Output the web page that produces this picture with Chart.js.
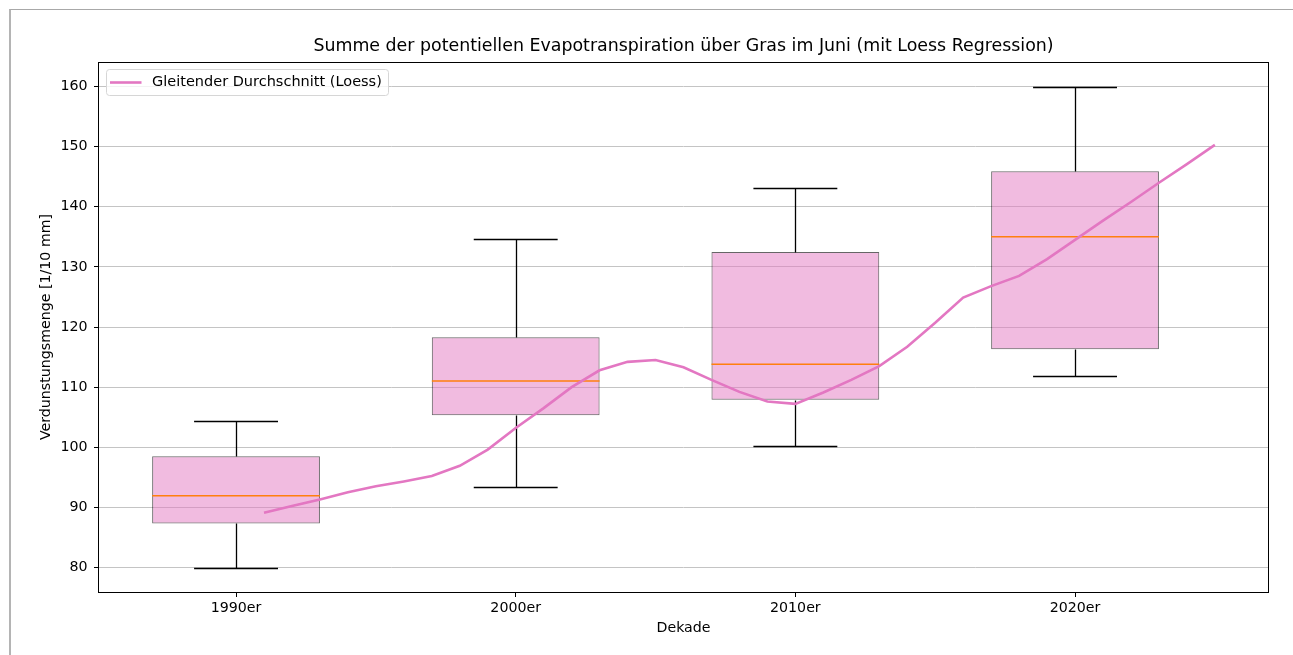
<!DOCTYPE html>
<html>
<head>
<meta charset="utf-8">
<script src="https://cdn.jsdelivr.net/npm/chart.js@4.4.1/dist/chart.umd.min.js"></script>
<style>
    html, body { margin: 0; padding: 0; background: #fff; }
    #wrap { position: relative; width: 1293px; height: 655px; }
    #frame {
        position: absolute; left: 9px; top: 9px; right: 0; bottom: 0;
        border-top: 1px solid #a8a8a8; border-left: 2px solid #b4b4b4;
        pointer-events: none;
    }
</style>
</head>
<body>
<div id="wrap">
    <canvas id="chart"></canvas>
    <div id="frame"></div>
</div>
<script>
const titleText = 'Summe der potentiellen Evapotranspiration über Gras im Juni (mit Loess Regression)';
const decades = ['1990er', '2000er', '2010er', '2020er'];
const yTicks = [80, 90, 100, 110, 120, 130, 140, 150, 160];

// box plot stats per decade
const whiskerLow = [79.9, 93.4, 100.2, 111.9];
const q1 = [87.3, 105.3, 107.9, 116.3];
const median = [91.9, 111.0, 113.8, 135.0];
const q3 = [98.5, 118.3, 132.5, 145.9];
const whiskerHigh = [104.3, 134.7, 143.2, 160.0];

// loess curve, one point per year
const loessYears = [1991, 1992, 1993, 1994, 1995, 1996, 1997, 1998, 1999, 2000,
    2001, 2002, 2003, 2004, 2005, 2006, 2007, 2008, 2009, 2010,
    2011, 2012, 2013, 2014, 2015, 2016, 2017, 2018, 2019, 2020,
    2021, 2022, 2023, 2024, 2025];
const loessValues = [89.1, 90.2, 91.3, 92.5, 93.5, 94.3, 95.2, 96.9, 99.6, 103.2,
    106.5, 110.0, 112.8, 114.2, 114.5, 113.3, 111.2, 109.2, 107.6, 107.2,
    109.1, 111.2, 113.5, 116.7, 120.7, 124.9, 126.8, 128.5, 131.3, 134.5,
    137.7, 140.8, 144.0, 147.1, 150.3];

const FONT = 'DejaVu Sans';
const PINK = '#e377c2';

// decade index on the x axis, years placed inside it
const yearToX = y => (y - 1990) / 10;

const boxPlugin = {
    id: 'boxParts',
    afterDatasetDraw(chart, args) {
        if (args.index !== 0) return;
        const { ctx, scales: { x, y } } = chart;
        ctx.save();
        decades.forEach((d, i) => {
            const cx = Math.round(x.getPixelForValue(i)) + 0.5;
            const capL = x.getPixelForValue(i - 0.15);
            const capR = x.getPixelForValue(i + 0.15);
            const boxL = x.getPixelForValue(i - 0.3);
            const boxR = x.getPixelForValue(i + 0.3);
            const yy = v => Math.round(y.getPixelForValue(v)) + 0.5;

            ctx.strokeStyle = '#000';
            ctx.lineWidth = 1.3;
            ctx.beginPath();
            ctx.moveTo(cx, yy(q3[i])); ctx.lineTo(cx, yy(whiskerHigh[i]));
            ctx.moveTo(cx, yy(q1[i])); ctx.lineTo(cx, yy(whiskerLow[i]));
            ctx.moveTo(capL, yy(whiskerHigh[i])); ctx.lineTo(capR, yy(whiskerHigh[i]));
            ctx.moveTo(capL, yy(whiskerLow[i])); ctx.lineTo(capR, yy(whiskerLow[i]));
            ctx.stroke();

            ctx.strokeStyle = '#ff7f0e';
            ctx.lineWidth = 1.5;
            ctx.beginPath();
            ctx.moveTo(boxL, y.getPixelForValue(median[i]));
            ctx.lineTo(boxR, y.getPixelForValue(median[i]));
            ctx.stroke();
        });
        ctx.restore();
    },
    afterDraw(chart) {
        const { ctx, chartArea: a } = chart;
        ctx.save();
        // axes frame
        ctx.strokeStyle = '#000';
        ctx.lineWidth = 1;
        ctx.strokeRect(Math.round(a.left) - 0.5, Math.round(a.top) + 0.5,
            Math.round(a.right - a.left) + 1, Math.round(a.bottom - a.top));

        // title
        ctx.fillStyle = '#000';
        ctx.font = '17.4px "' + FONT + '"';
        ctx.textAlign = 'center';
        ctx.textBaseline = 'middle';
        ctx.fillText(titleText, (a.left + a.right) / 2, a.top - 16);

        // legend box, upper left
        const ds = chart.data.datasets[1];
        const lx = a.left + 7.5, ly = a.top + 7.5, lw = 282, lh = 26;
        ctx.beginPath();
        ctx.roundRect(lx, ly, lw, lh, 3);
        ctx.fillStyle = 'rgba(255,255,255,0.8)';
        ctx.fill();
        ctx.strokeStyle = '#d6d6d6';
        ctx.lineWidth = 1;
        ctx.stroke();
        ctx.strokeStyle = ds.borderColor;
        ctx.lineWidth = ds.borderWidth;
        ctx.beginPath();
        ctx.moveTo(lx + 3.5, ly + 13);
        ctx.lineTo(lx + 35, ly + 13);
        ctx.stroke();
        ctx.fillStyle = '#000';
        ctx.font = '14.5px "' + FONT + '"';
        ctx.textAlign = 'left';
        ctx.fillText(ds.label, lx + 45.5, ly + 13);
        ctx.restore();
    }
};

new Chart(document.getElementById('chart'), {
    data: {
        datasets: [
            {
                type: 'bar',
                label: 'Boxen',
                data: decades.map((d, i) => ({ x: i, y: [q1[i], q3[i]] })),
                backgroundColor: 'rgba(227,119,194,0.5)',
                borderColor: 'rgba(0,0,0,0.6)',
                borderWidth: 1,
                borderSkipped: false,
                barPercentage: 0.6,
                categoryPercentage: 1,
                order: 1
            },
            {
                type: 'line',
                label: 'Gleitender Durchschnitt (Loess)',
                data: loessYears.map((yr, i) => ({ x: yearToX(yr), y: loessValues[i] })),
                borderColor: PINK,
                borderWidth: 2.6,
                pointRadius: 0,
                tension: 0,
                order: 0
            }
        ]
    },
    options: {
        responsive: true,
        maintainAspectRatio: false,
        animation: false,
        layout: { padding: { top: 62, right: 25, left: 0, bottom: 0 } },
        plugins: {
            legend: { display: false },
            tooltip: { enabled: false },
            title: { display: false }
        },
        scales: {
            x: {
                type: 'linear',
                min: -0.49,
                max: 3.69,
                offset: false,
                afterBuildTicks: s => { s.ticks = decades.map((d, i) => ({ value: i })); },
                afterFit: s => { s.height = 63; },
                ticks: {
                    callback: v => decades[v],
                    color: '#000',
                    font: { family: FONT, size: 14.2 },
                    padding: 3,
                    maxRotation: 0
                },
                grid: { offset: false, drawOnChartArea: false, tickLength: 5, tickColor: '#000', tickWidth: 1 },
                border: { display: false },
                title: {
                    display: true,
                    text: 'Dekade',
                    color: '#000',
                    font: { family: FONT, size: 14.2 },
                    padding: { top: 0, bottom: 18 }
                }
            },
            y: {
                min: 75.9,
                max: 164.1,
                afterBuildTicks: s => { s.ticks = yTicks.map(v => ({ value: v })); },
                afterFit: s => { s.width = 99; },
                ticks: {
                    color: '#000',
                    font: { family: FONT, size: 14.2 },
                    padding: 6.5
                },
                grid: { color: '#c4c4c4', lineWidth: 1, tickLength: 5, tickColor: '#000', tickWidth: 1 },
                border: { display: false },
                title: {
                    display: true,
                    text: 'Verdunstungsmenge [1/10 mm]',
                    color: '#000',
                    font: { family: FONT, size: 14.2 },
                    padding: { top: 37.5, bottom: 0 }
                }
            }
        }
    },
    plugins: [boxPlugin]
});
</script>
</body>
</html>
